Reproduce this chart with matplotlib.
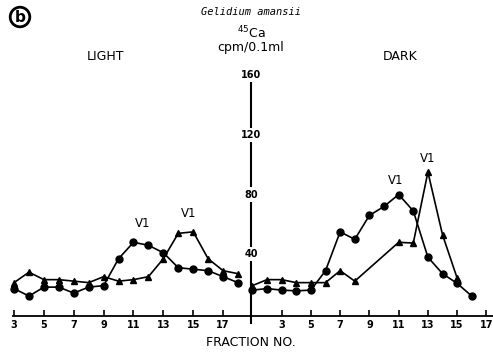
import matplotlib.pyplot as plt

# LIGHT panel (fractions 3-18)
light_frac = [3, 4, 5, 6, 7, 8, 9, 10, 11, 12, 13, 14, 15, 16, 17, 18]
light_circ = [17, 12, 18, 18, 14, 18, 19, 37, 48, 46, 41, 31, 30, 29, 25, 21]
light_tri = [21, 28, 23, 23, 22, 21, 25, 22, 23, 25, 37, 54, 55, 37, 29, 27]

# DARK panel (fractions 1-16)
dark_frac = [1, 2, 3, 4, 5, 6, 7, 8, 9, 10, 11, 12, 13, 14, 15, 16]
dark_circ = [16, 17, 16, 15.5, 16, 29, 55, 50, 66, 72, 80, 69, 38, 27, 20.5, 12]
dark_tri_frac = [1, 2, 3, 4, 5, 6, 7, 8, 11, 12, 13, 14, 15]
dark_tri = [19, 23, 23, 21, 21, 21, 29, 22, 48, 47.5, 95, 53, 24]

x_ticks = [3, 5, 7, 9, 11, 13, 15, 17]
y_ticks = [40, 80, 120, 160]

W, H = 493, 356
fig = plt.figure(figsize=(W / 100, H / 100), dpi=100)

bottom = (H - 315.5) / H
top = (H - 75) / H
ax1 = fig.add_axes([13 / W, bottom, (251 - 13) / W, top - bottom])
ax2 = fig.add_axes([251 / W, bottom, (W - 251) / W, top - bottom])

line_kw = dict(color='black', lw=1.2, clip_on=False)
ax1.plot(light_frac, light_circ, 'o-', ms=5, **line_kw)
ax1.plot(light_frac, light_tri, '^-', ms=4.5, **line_kw)
ax2.plot(dark_frac, dark_circ, 'o-', ms=5, **line_kw)
ax2.plot(dark_tri_frac, dark_tri, '^-', ms=4.5, **line_kw)

ax1.set_xlim(2.93, 18.87)
ax2.set_xlim(0.905, 17.45)
for ax in (ax1, ax2):
    ax.set_ylim(-1, 160)
    for s in ('top', 'right', 'left'):
        ax.spines[s].set_visible(False)
    ax.spines['bottom'].set_linewidth(1.3)
    ax.set_yticks([])
    ax.set_xticks(x_ticks)
    ax.tick_params(axis='x', direction='in', length=4, width=1.2, pad=3,
                   labelsize=7)
    for lbl in ax.get_xticklabels():
        lbl.set_fontweight('bold')

# central y axis with labels breaking the line
ax2.plot([0, 0], [-0.03, 0.98], transform=ax2.transAxes, color='black',
         lw=1.5, clip_on=False, zorder=3)
for v in y_ticks:
    ax2.text(0, v, str(v), transform=ax2.get_yaxis_transform(), ha='center',
             va='center', fontsize=7, fontweight='bold', zorder=5,
             bbox=dict(facecolor='white', edgecolor='none', pad=1.5))

# peak labels
ax1.text(11.6, 58, 'V1', ha='center', fontsize=8.5)
ax1.text(14.7, 65, 'V1', ha='center', fontsize=8.5)
ax2.text(10.8, 87, 'V1', ha='center', fontsize=8.5)
ax2.text(13.0, 102, 'V1', ha='center', fontsize=8.5)

fig.text(251 / W, 1 - 12 / H, 'Gelidium amansii', ha='center', va='center',
         fontsize=7.5, family='DejaVu Sans Mono', style='italic')
fig.text(251 / W, 1 - 33 / H, r'$^{45}$Ca', ha='center', va='center',
         fontsize=9)
fig.text(251 / W, 1 - 48 / H, 'cpm/0.1ml', ha='center', va='center',
         fontsize=9)
fig.text(105 / W, 1 - 56 / H, 'LIGHT', ha='center', va='center', fontsize=9)
fig.text(400 / W, 1 - 56 / H, 'DARK', ha='center', va='center', fontsize=9)
fig.text(251 / W, 1 - 343 / H, 'FRACTION NO.', ha='center', va='center',
         fontsize=9)
fig.text(20 / W, 1 - 17 / H, 'b', ha='center', va='center', fontsize=11,
         fontweight='bold',
         bbox=dict(boxstyle='circle,pad=0.15', facecolor='white',
                   edgecolor='black', lw=2))

fig.savefig('out.png', dpi=100)
